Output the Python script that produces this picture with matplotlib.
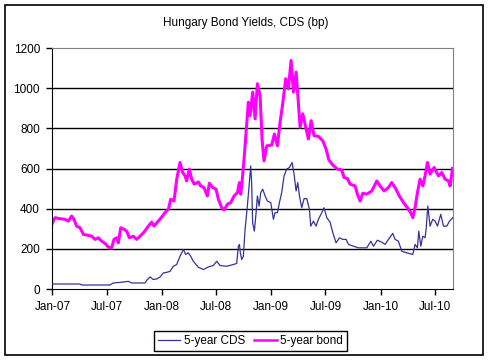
import numpy as np
import pandas as pd
import matplotlib
matplotlib.use('Agg')
import matplotlib.pyplot as plt
import matplotlib.dates as mdates
from matplotlib.patches import Rectangle

# x values are months since 1 Jan 2007
bond_months = [0.02, 0.27, 0.82, 1.37, 1.74, 2.10, 2.36, 2.65, 3.02, 3.39, 3.93, 4.30, 4.67, 5.03,
               5.40, 5.77, 6.13, 6.50, 6.75, 7.05, 7.23, 7.49, 7.85, 8.14, 8.44, 8.87, 9.24, 9.61,
               10.05, 10.52, 10.89, 11.15, 11.51, 11.99, 12.35, 12.72, 12.98, 13.34, 13.64, 14.00,
               14.29, 14.55, 14.73, 15.02, 15.28, 15.57, 16.01, 16.27, 16.63, 17.00, 17.22, 17.59,
               17.95, 18.21, 18.58, 18.83, 19.20, 19.57, 19.93, 20.30, 20.52, 20.66, 20.77, 21.03,
               21.25, 21.50, 21.69, 21.98, 22.24, 22.49, 22.79, 23.00, 23.22, 23.52, 24.07, 24.36,
               24.69, 24.98, 25.27, 25.60, 25.90, 26.19, 26.45, 26.74, 26.96, 27.18, 27.47, 27.76,
               28.09, 28.39, 28.71, 29.19, 29.67, 30.03, 30.33, 30.77, 31.28, 31.75, 32.01, 32.37,
               32.67, 33.22, 33.47, 33.77, 34.06, 34.50, 35.05, 35.60, 35.97, 36.40, 36.88, 37.24,
               37.61, 38.08, 38.53, 38.96, 39.33, 39.55, 39.80, 40.06, 40.35, 40.65, 40.90, 41.16,
               41.45, 41.89, 42.37, 42.73, 43.10, 43.47, 43.65, 43.91]
bond_bp = [330, 355, 350, 347, 338, 363, 347, 313, 305, 272, 267, 263, 247, 255,
           238, 227, 208, 205, 247, 255, 230, 305, 297, 288, 255, 263, 247, 263,
           283, 313, 333, 313, 333, 358, 380, 397, 447, 438, 547, 630,
           580, 563, 538, 597, 547, 522, 533, 513, 505, 463, 527, 505,
           497, 447, 405, 393, 422, 430, 463, 480, 530, 472, 513, 647,
           780, 930, 863, 980, 847, 1022, 963, 747, 638, 713, 717, 772,
           713, 830, 922, 1047, 997, 1138, 980, 1080, 947, 805, 872, 813,
           747, 838, 763, 760, 738, 697, 643, 617, 597, 593, 555, 550,
           522, 513, 472, 438, 477, 472, 488, 538, 513, 488, 505, 530,
           505, 463, 430, 405, 380, 355, 405, 480, 547, 513, 563, 630,
           572, 605, 563, 580, 547, 538, 513, 600]

cds_months = [0.02, 3.02, 3.20, 6.31, 6.68, 7.41, 8.33, 8.69, 10.16, 10.34, 10.71, 11.07, 11.44,
              11.81, 12.17, 12.54, 12.90, 13.27, 13.63, 14.00, 14.37, 14.62, 14.91, 15.17, 15.46,
              16.01, 16.56, 17.11, 17.66, 18.03, 18.39, 19.12, 19.86, 20.22, 20.40, 20.52, 20.62,
              20.77, 20.95, 21.14, 21.39, 21.55, 21.76, 21.86, 21.97, 22.16, 22.35, 22.49, 22.68,
              22.86, 23.08, 23.34, 23.59, 23.96, 24.25, 24.43, 24.69, 24.91, 25.16, 25.42, 25.71,
              26.01, 26.30, 26.52, 26.74, 26.92, 27.11, 27.36, 27.62, 27.91, 28.20, 28.35, 28.64,
              28.93, 29.19, 29.56, 29.81, 30.11, 30.47, 30.77, 31.13, 31.50, 31.86, 32.23, 32.49,
              33.03, 33.58, 34.13, 34.50, 34.94, 35.23, 35.67, 36.14, 36.51, 36.88, 37.35, 37.61,
              37.97, 38.34, 38.89, 39.55, 39.80, 40.06, 40.21, 40.43, 40.65, 40.90, 41.01, 41.20,
              41.45, 41.74, 42.00, 42.26, 42.62, 42.92, 43.28, 43.58, 43.95]
cds_bp = [25, 25, 20, 20, 30, 33, 38, 30, 30, 43, 60, 47, 50,
          60, 80, 83, 88, 113, 122, 163, 197, 172, 180, 163, 138,
          108, 97, 110, 117, 138, 117, 113, 122, 127, 213, 222, 180,
          147, 163, 297, 413, 497, 613, 530, 330, 288, 380, 463, 413,
          480, 497, 463, 438, 430, 347, 380, 380, 430, 480, 563, 597,
          605, 630, 572, 488, 530, 463, 405, 450, 450, 397, 313, 338,
          313, 347, 380, 405, 355, 333, 280, 230, 255, 247, 247, 222,
          213, 205, 205, 205, 238, 213, 243, 233, 222, 247, 277, 247,
          238, 188, 180, 172, 222, 205, 288, 213, 263, 255, 297, 413,
          313, 347, 338, 313, 372, 313, 313, 338, 355]

series_labels = ['5-year CDS', '5-year bond']
title = 'Hungary Bond Yields, CDS (bp)'

start = pd.Timestamp('2007-01-01')


def to_dates(months):
    return start + pd.to_timedelta(np.asarray(months) * 30.437, unit='D')


plt.rcParams['font.family'] = ['Liberation Sans', 'DejaVu Sans']

fig = plt.figure(figsize=(4.89, 3.6), dpi=100)
fig.patches.append(Rectangle((5 / 489, 5 / 360), 478 / 489, 350 / 360, transform=fig.transFigure,
                             fill=False, edgecolor='black', linewidth=1.2))
ax = fig.add_axes([52.5 / 489, 1 - 289 / 360, 401 / 489, 241 / 360])

ax.plot(to_dates(cds_months), cds_bp, color='#333399', linewidth=0.9, label=series_labels[0], zorder=3)
ax.plot(to_dates(bond_months), bond_bp, color='#ff00ff', linewidth=2.2, label=series_labels[1], zorder=2)

ax.set_ylim(0, 1200)
ax.set_yticks(range(0, 1201, 200))
ax.set_xlim(start, start + pd.Timedelta(days=44.02 * 30.437))
ax.xaxis.set_major_locator(mdates.MonthLocator(bymonth=[1, 7]))
ax.xaxis.set_major_formatter(mdates.DateFormatter('%b-%y'))

for y in range(200, 1001, 200):
    ax.axhline(y, color='black', linewidth=1.0, zorder=1)

ax.spines['top'].set_color('#808080')
ax.spines['right'].set_color('#808080')
ax.spines['left'].set_color('black')
ax.spines['bottom'].set_color('black')
ax.tick_params(direction='out', length=4, width=1, labelsize=8.5, pad=5, colors='black')

fig.text(0.503, 1 - 23 / 360, title, ha='center', va='center', fontsize=8.5)

leg = fig.legend(loc='center', bbox_to_anchor=(250.5 / 489, 1 - 341 / 360), ncol=2, fontsize=8.5,
                 frameon=True, fancybox=False, edgecolor='black', framealpha=1,
                 borderpad=0.3, handlelength=1.9, columnspacing=0.8, handletextpad=0.3)
leg.get_lines()[1].set_linewidth(1.8)

fig.savefig('out.png', dpi=100)
